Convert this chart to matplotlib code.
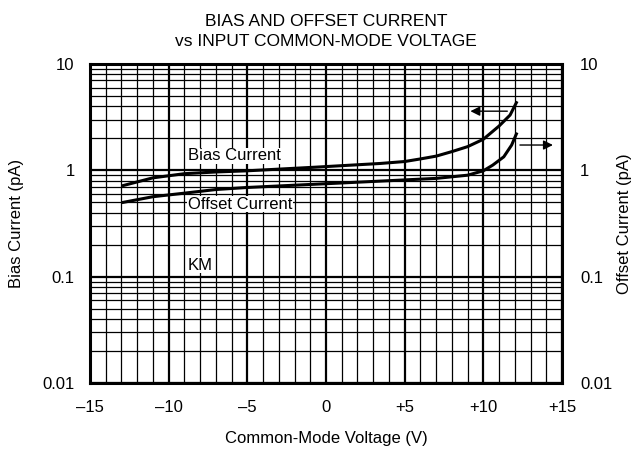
import numpy as np
import matplotlib
matplotlib.use('Agg')
import matplotlib.pyplot as plt
from matplotlib.ticker import FixedLocator, LogLocator, NullFormatter

plt.rcParams['font.family'] = ['Liberation Sans', 'DejaVu Sans']

# 데이터
bias_v = [-12.88, -11.0, -9.0, -7.0, -5.0, -0.7, 3.44, 5.0, 6.0, 7.0, 8.0, 9.0, 10.0, 11.0, 11.7, 12.1]
bias_pa = [0.72, 0.85, 0.93, 0.965, 0.99, 1.07, 1.16, 1.21, 1.28, 1.36, 1.5, 1.67, 1.96, 2.61, 3.31, 4.33]
offset_v = [-12.88, -11.0, -9.0, -7.0, -5.0, -0.7, 4.07, 7.0, 9.0, 10.0, 10.6, 11.3, 11.8, 12.1]
offset_pa = [0.50, 0.565, 0.61, 0.66, 0.69, 0.74, 0.80, 0.84, 0.90, 0.99, 1.12, 1.34, 1.73, 2.2]

x_ticks = [-15, -10, -5, 0, 5, 10, 15]
x_tick_labels = ['\u201315', '\u201310', '\u20135', '0', '+5', '+10', '+15']
y_ticks = [0.01, 0.1, 1, 10]
y_tick_labels = ['0.01', '0.1', '1', '10']

fs = 12

fig = plt.figure(figsize=(6.35, 4.5), dpi=100)
ax = fig.add_axes([90 / 635, 1 - 383 / 450, 472 / 635, 319 / 450])
ax.set_xlim(-15, 15)
ax.set_yscale('log')
ax.set_ylim(0.01, 10)

# 격자
ax.xaxis.set_major_locator(FixedLocator(x_ticks))
ax.xaxis.set_minor_locator(FixedLocator(np.arange(-15, 16, 1)))
ax.yaxis.set_major_locator(FixedLocator(y_ticks))
ax.yaxis.set_minor_locator(LogLocator(base=10, subs=np.arange(2, 10)))
ax.yaxis.set_minor_formatter(NullFormatter())
ax.grid(which='major', color='black', linewidth=1.6)
ax.grid(which='minor', color='black', linewidth=0.9)
ax.set_axisbelow(True)
ax.tick_params(which='both', length=0, labelsize=fs)
ax.tick_params(axis='x', pad=12)
ax.tick_params(axis='y', pad=11)
ax.set_xticklabels(x_tick_labels)
ax.set_yticklabels(y_tick_labels)
for s in ax.spines.values():
    s.set_linewidth(2.2)

# 곡선
ax.plot(bias_v, bias_pa, color='black', linewidth=2.2, solid_joinstyle='round')
ax.plot(offset_v, offset_pa, color='black', linewidth=2.2, solid_joinstyle='round')

# 화살표
ax.annotate('', xy=(9.0, 3.6), xytext=(11.7, 3.6),
            arrowprops=dict(arrowstyle='-|>', color='black', lw=1, mutation_scale=14))
ax.annotate('', xy=(14.6, 1.73), xytext=(12.15, 1.73),
            arrowprops=dict(arrowstyle='-|>', color='black', lw=1, mutation_scale=14))

# 라벨
box = dict(facecolor='white', edgecolor='none', pad=0.5)
ax.text(-8.8, 1.37, 'Bias Current', fontsize=fs, va='center', ha='left', bbox=box)
ax.text(-8.8, 0.48, 'Offset Current', fontsize=fs, va='center', ha='left', bbox=box)
ax.text(-8.8, 0.128, 'KM', fontsize=fs, va='center', ha='left', bbox=box)

# 오른쪽 축
ax2 = ax.twinx()
ax2.set_yscale('log')
ax2.set_ylim(0.01, 10)
ax2.yaxis.set_major_locator(FixedLocator(y_ticks))
ax2.yaxis.set_minor_locator(FixedLocator([]))
ax2.set_yticklabels(y_tick_labels)
ax2.tick_params(which='both', length=0, labelsize=fs, pad=13)
for s in ax2.spines.values():
    s.set_visible(False)

ax.set_xlabel('Common-Mode Voltage (V)', fontsize=fs, labelpad=12)
ax.set_ylabel('Bias Current (pA)', fontsize=fs, va='center')
ax.yaxis.set_label_coords(-73 / 472, 0.5)
ax2.set_ylabel('Offset Current (pA)', fontsize=fs, rotation=90, va='center')
ax2.yaxis.set_label_coords(1 + 63 / 472, 0.5)
ax.set_title('BIAS AND OFFSET CURRENT\nvs INPUT COMMON-MODE VOLTAGE', fontsize=12.5,
             pad=13, linespacing=1.45)

fig.savefig('out.png', dpi=100)
